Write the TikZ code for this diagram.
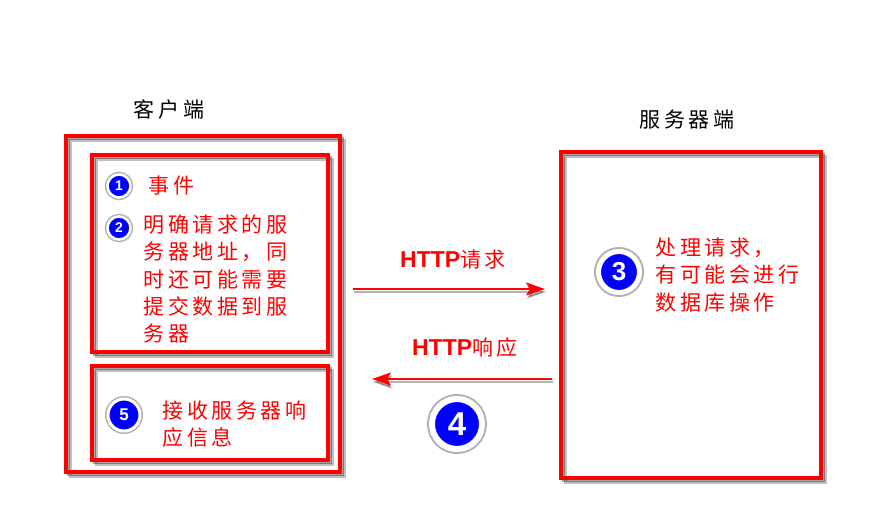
\documentclass[tikz,border=0pt]{standalone}
\usepackage{fontspec}
\usepackage{xcolor}
\setmainfont{Liberation Sans}
\newfontfamily\cjkfont[LetterSpace=17]{Noto Sans CJK SC}
\usetikzlibrary{arrows.meta,shadows}
\tikzset{
  softshadow/.style={
    drop shadow={shadow xshift=2pt, shadow yshift=-2pt, fill=none, draw=black, opacity=.35, line width=#1},
    drop shadow={shadow xshift=4pt, shadow yshift=-4pt, fill=none, draw=black, opacity=.25, line width=#1}},
  framebox/.style={draw=red, line width=3.6pt, inner sep=0pt, softshadow=3pt},
  numdot/.style={circle, fill=blue, draw=white, text=white, inner sep=0pt,
    font=\bfseries\fontsize{#1}{#1}\selectfont},
  redtext/.style={text=red, anchor=west, align=left, font=\cjkfont\fontsize{21}{27.4}\selectfont},
  toptext/.style={text=black, font=\cjkfont\fontsize{21}{24}\selectfont},
  httptext/.style={text=red, font=\bfseries\fontsize{23}{24}\selectfont},
  arrowshadow/.style={drop shadow={shadow xshift=1pt, shadow yshift=-3pt, fill=none, draw=black, opacity=.3}}
}
\begin{document}
\begin{tikzpicture}[x=1pt, y=-1pt]
    \useasboundingbox (0, 0) rectangle (886, 514);
    \node[framebox, minimum width=274pt, minimum height=336pt] (client) at (203, 304) {};
    \node[framebox, minimum width=236pt, minimum height=197pt] (clientup) at (210, 253.5) {};
    \node[framebox, minimum width=236pt, minimum height=94pt] (clientdown) at (210, 413) {};
    \node[framebox, minimum width=260pt, minimum height=326pt] (server) at (691, 315) {};
    \node[toptext] (clienttitle) at (169, 109) {客户端};
    \node[toptext] (servertitle) at (687, 120) {服务器端};
    \node[numdot=14, minimum size=23pt, line width=2.5pt, preaction={draw=black!30, line width=5.5pt}] (one) at (119, 186) {1};
    \node[numdot=14, minimum size=23pt, line width=2.5pt, preaction={draw=black!30, line width=5.5pt}] (two) at (119, 228) {2};
    \node[numdot=26, minimum size=41pt, line width=5pt, preaction={draw=black!30, line width=9pt}] (three) at (619, 272) {3};
    \node[numdot=33, minimum size=50pt, line width=6pt, preaction={draw=black!30, line width=10pt}] (four) at (457, 424) {4};
    \node[numdot=17, minimum size=32pt, line width=3pt, preaction={draw=black!30, line width=6pt}] (five) at (124, 415) {5};
    \node[redtext] (event) at (145, 186) {事件};
    \node[redtext] (address) at (140, 279) {明确请求的服\\务器地址，同\\时还可能需要\\提交数据到服\\务器};
    \node[redtext] (receive) at (159, 424) {接收服务器响\\应信息};
    \node[redtext] (process) at (652, 275) {处理请求，\\有可能会进行\\数据库操作};
    \node[httptext] (request) at (453, 260) {HTTP{\cjkfont\mdseries\fontsize{21}{24}\selectfont 请求}};
    \node[httptext] (response) at (465, 348) {HTTP{\cjkfont\mdseries\fontsize{21}{24}\selectfont 响应}};
    \coordinate (reqstart) at (353, 289);
    \coordinate (reqend) at (545, 289);
    \coordinate (respstart) at (552, 379);
    \coordinate (respend) at (372, 379);
    \begin{scope}[draw=red, line width=1.6pt, -{Stealth[length=19pt, width=13pt, inset=4pt]}]
      \draw[arrowshadow] (reqstart) -- (reqend);
      \draw[arrowshadow] (respstart) -- (respend);
    \end{scope}
  \end{tikzpicture}
\end{document}
